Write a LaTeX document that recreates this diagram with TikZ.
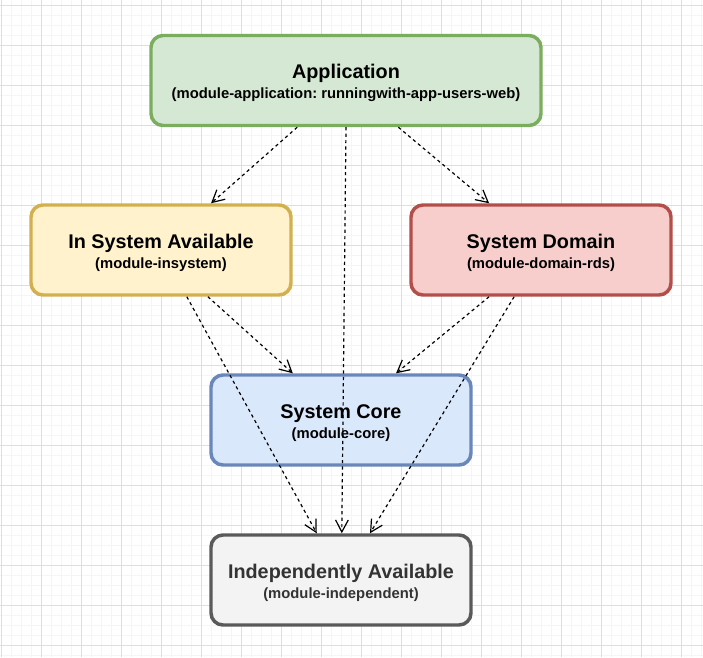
\documentclass[tikz,border=0pt]{standalone}
\usepackage{fontspec}
\setmainfont{Liberation Sans}
\usepackage{tikz}
\usetikzlibrary{calc, arrows.meta}
\usepackage{xcolor}

\definecolor{appfill}{HTML}{D5E8D4}
\definecolor{appline}{HTML}{7BAD5F}
\definecolor{insysfill}{HTML}{FFF2CC}
\definecolor{insysline}{HTML}{D3B04F}
\definecolor{domfill}{HTML}{F8CECC}
\definecolor{domline}{HTML}{B24F4A}
\definecolor{corefill}{HTML}{DAE8FC}
\definecolor{coreline}{HTML}{6A87BA}
\definecolor{indfill}{HTML}{F3F3F3}
\definecolor{indline}{HTML}{5A5A5A}
\definecolor{indtext}{HTML}{333333}
\definecolor{minorgrid}{HTML}{F5F5F5}
\definecolor{majorgrid}{HTML}{DEDEDE}

\newcommand{\modtitle}[1]{{\fontsize{14.85}{15}\selectfont #1\rule{0pt}{14.6pt}}}
\frenchspacing

\begin{document}
\begin{tikzpicture}[x=0.75pt, y=-0.75pt,
		module/.style={draw, line width=2.6pt, rounded corners=9pt,
			minimum width=195pt, minimum height=67.5pt, inner sep=0pt,
			align=center, font=\bfseries\fontsize{11.1}{15}\selectfont},
		dep/.style={draw=black, line width=0.9pt, dash pattern=on 2.4pt off 2.4pt,
			-{Straight Barb[length=9pt, width=9.5pt]}}]
		\useasboundingbox (0,0) rectangle (703,657);
		\fill[white] (0,0) rectangle (703,657);
		% background grid
		\foreach \gx in {1.5,11.5,...,701.5}
			\draw[minorgrid, line width=0.75pt] (\gx,0) -- (\gx,657);
		\foreach \gy in {5,15,...,655}
			\draw[minorgrid, line width=0.75pt] (0,\gy) -- (703,\gy);
		\foreach \gx in {1.5,41.5,...,681.5}
			\draw[majorgrid, line width=0.75pt] (\gx,0) -- (\gx,657);
		\foreach \gy in {5,45,...,645}
			\draw[majorgrid, line width=0.75pt] (0,\gy) -- (703,\gy);

		\node[module, draw=appline, fill=appfill, minimum width=292.5pt] (app) at (346,80.5)
			{\modtitle{Application}\\(module-application: runningwith-app-users-web)};
		\node[module, draw=insysline, fill=insysfill] (insys) at (161,250)
			{\modtitle{In System Available}\\(module-insystem)};
		\node[module, draw=domline, fill=domfill] (domain) at (541,250)
			{\modtitle{System Domain}\\(module-domain-rds)};
		\node[module, draw=coreline, fill=corefill] (core) at (341,420)
			{\modtitle{System Core}\\(module-core)};
		\node[module, draw=indline, fill=indfill, text=indtext] (indep) at (341,580)
			{\modtitle{Independently Available}\\(module-independent)};

		% dependencies
		\draw[dep] ($(app.south west)!0.376!(app.south east)$) -- ($(insys.north west)!0.690!(insys.north east)$);
		\draw[dep] ($(app.south west)!0.633!(app.south east)$) -- ($(domain.north west)!0.303!(domain.north east)$);
		\draw[dep] (app.south) -- ($(indep.north west)!0.503!(indep.north east)$);
		\draw[dep] ($(insys.south west)!0.678!(insys.south east)$) -- ($(core.north west)!0.317!(core.north east)$);
		\draw[dep] ($(insys.south west)!0.598!(insys.south east)$) -- ($(indep.north west)!0.408!(indep.north east)$);
		\draw[dep] ($(domain.south west)!0.303!(domain.south east)$) -- ($(core.north west)!0.709!(core.north east)$);
		\draw[dep] ($(domain.south west)!0.398!(domain.south east)$) -- ($(indep.north west)!0.610!(indep.north east)$);
	\end{tikzpicture}
\end{document}
